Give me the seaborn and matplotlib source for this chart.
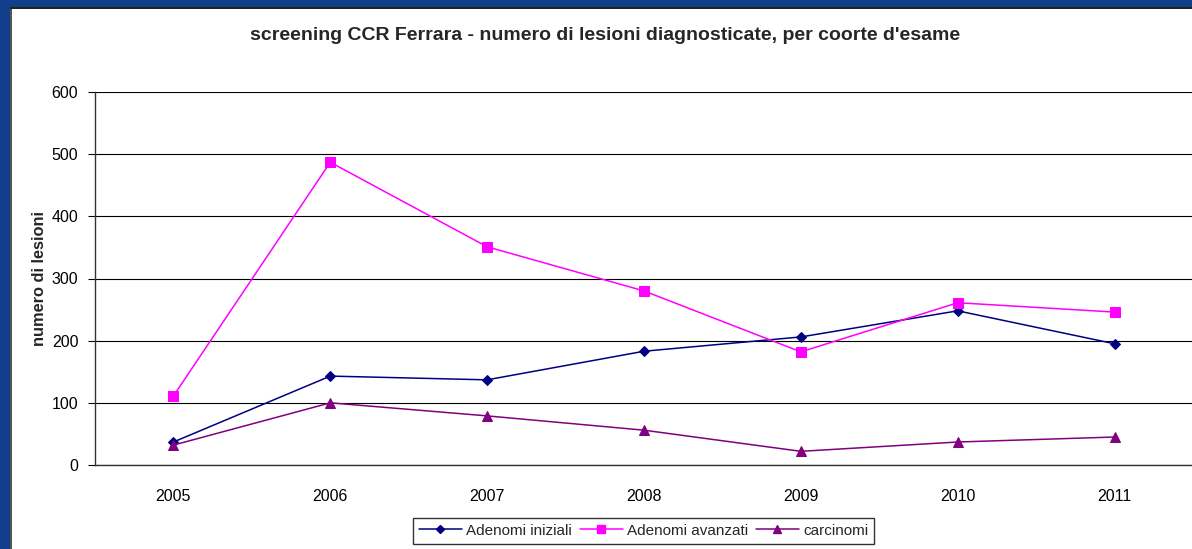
import numpy as np
import pandas as pd
import matplotlib
matplotlib.use("Agg")
import matplotlib.pyplot as plt
from matplotlib.lines import Line2D
from matplotlib.patches import Rectangle
import seaborn as sns

anni = [2005, 2006, 2007, 2008, 2009, 2010, 2011]
adenomi_iniziali = [37, 143, 137, 183, 206, 248, 195]
adenomi_avanzati = [111, 487, 351, 280, 182, 261, 246]
carcinomi = [32, 100, 79, 56, 22, 37, 45]

SERIE = ["Adenomi iniziali", "Adenomi avanzati", "carcinomi"]
COLORI = {"Adenomi iniziali": "#000080", "Adenomi avanzati": "#FF00FF", "carcinomi": "#800080"}
MARKER = {"Adenomi iniziali": ("D", 5), "Adenomi avanzati": ("s", 7), "carcinomi": ("^", 7)}

df = pd.DataFrame({
    "anno": anni * 3,
    "valore": adenomi_iniziali + adenomi_avanzati + carcinomi,
    "serie": [s for s in SERIE for _ in anni],
})

sns.set_style("white")
plt.rcParams["font.family"] = ["Liberation Sans", "DejaVu Sans"]

fig = plt.figure(figsize=(11.92, 5.49), dpi=100)
fig.patch.set_facecolor("white")

# blue frame of the slide (left and top), with dark inner edge
fig.patches.append(Rectangle((0, 0), 10 / 1192, 1, transform=fig.transFigure,
                             facecolor="#123F8C", edgecolor="none", zorder=0))
fig.patches.append(Rectangle((0, 1 - 7 / 549), 1, 7 / 549, transform=fig.transFigure,
                             facecolor="#123F8C", edgecolor="none", zorder=0))
fig.patches.append(Rectangle((10 / 1192, 0), 2 / 1192, 1 - 7 / 549, transform=fig.transFigure,
                             facecolor="#555555", edgecolor="none", zorder=0))
fig.patches.append(Rectangle((10 / 1192, 1 - 9 / 549), 1, 2 / 549, transform=fig.transFigure,
                             facecolor="#222222", edgecolor="none", zorder=0))

ax = fig.add_axes([95 / 1192, 84 / 549, 1098 / 1192, 373 / 549])
ax.set_facecolor("white")

for s in SERIE:
    m, ms = MARKER[s]
    sns.lineplot(data=df[df["serie"] == s], x="anno", y="valore", ax=ax,
                 color=COLORI[s], marker=m, markersize=ms, markeredgecolor=COLORI[s],
                 linewidth=1.1, legend=False, zorder=3)

ax.set_xlim(2004.5, 2011.5)
ax.set_ylim(0, 600)
ax.set_yticks(np.arange(0, 601, 100))
ax.set_xticks(anni)
ax.set_xticks(np.arange(2004.5, 2011.6, 1), minor=True)
ax.tick_params(axis="x", which="major", length=0, pad=17, labelsize=11.5, colors="black")
ax.tick_params(axis="x", which="minor", length=5, width=0.8, color="#333333", direction="out")
ax.tick_params(axis="y", length=5, width=0.8, pad=7, labelsize=11.5, colors="black", direction="out", left=True)
ax.grid(axis="y", color="#000000", linewidth=0.8)
ax.grid(axis="x", visible=False)
ax.set_axisbelow(True)

for side in ["top", "right"]:
    ax.spines[side].set_visible(False)
for side in ["left", "bottom"]:
    ax.spines[side].set_color("#333333")
    ax.spines[side].set_linewidth(1.0)

ax.set_xlabel("")
ax.set_ylabel("numero di lesioni", fontsize=11.8, fontweight="bold", labelpad=3)

fig.text(0.5075, 0.936, "screening CCR Ferrara - numero di lesioni diagnosticate, per coorte d'esame",
         ha="center", va="center", fontsize=14, fontweight="bold")

handles = [Line2D([0], [0], color=COLORI[s], marker=MARKER[s][0], markersize=MARKER[s][1] - 1,
                  linewidth=1.1, label=s) for s in SERIE]
leg = fig.legend(handles=handles, loc="upper center", bbox_to_anchor=(0.54, 0.057),
                 bbox_transform=fig.transFigure, ncol=3, fontsize=11, frameon=True,
                 fancybox=False, handlelength=2.8, handletextpad=0.3, columnspacing=0.5,
                 borderpad=0.4, borderaxespad=0.0)
leg.get_frame().set_edgecolor("black")
leg.get_frame().set_linewidth(1.0)

fig.savefig("out.png", dpi=100, facecolor="white")
